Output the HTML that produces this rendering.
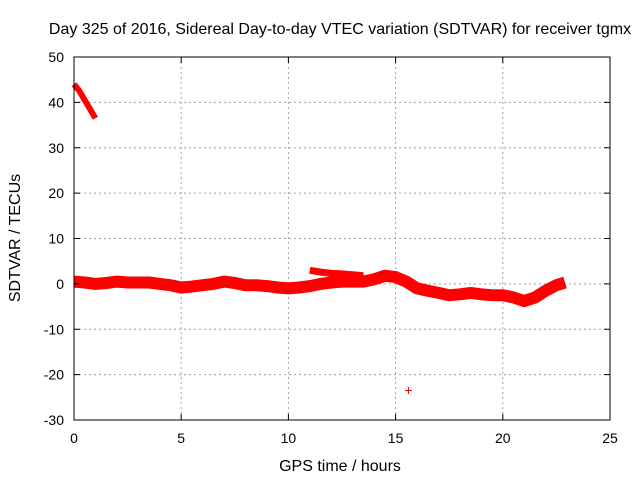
<!DOCTYPE html>
<html><head><meta charset="utf-8"><style>
body{margin:0;background:#fff}
svg{font-family:"Liberation Sans",sans-serif;font-size:14px}
.big{font-size:16px}
</style></head><body>
<svg width="640" height="480">
<g id="grid"></g>
<g id="marks"></g>
<g id="axes"></g>
</svg>
<script>
const xTicks=[0,5,10,15,20,25];
const yTicks=[-30,-20,-10,0,10,20,30,40,50];
const mainHours=[0,0.5,1,1.5,2,2.5,3,3.5,4,4.5,5,5.5,6,6.5,7,7.5,8,8.5,9,9.5,10,10.5,11,11.5,12,12.5,13,13.5,14,14.5,15,15.5,16,16.5,17,17.5,18,18.5,19,19.5,20,20.5,21,21.5,22,22.5,22.9];
const mainValues=[0.5,0.3,0,0.2,0.5,0.3,0.3,0.3,0,-0.3,-0.8,-0.6,-0.3,0,0.5,0.2,-0.3,-0.3,-0.5,-0.8,-1,-0.8,-0.5,0,0.3,0.5,0.5,0.5,1,1.8,1.5,0.5,-1,-1.5,-2,-2.5,-2.3,-2,-2.3,-2.5,-2.5,-3,-3.8,-3,-1.5,-0.3,0.3];
const upperHours=[11,11.5,12,12.5,13,13.5];
const upperValues=[3,2.6,2.3,2.2,2,1.8];
const startHours=[0,0.25,0.5,0.75,1];
const startValues=[44,42.5,40.5,38.5,36.5];
const outlierHours=[15.6];
const outlierValues=[-23.5];
const X0=74,X1=610,Y0=420,Y1=57;
const sx=v=>X0+(v-0)/(25-0)*(X1-X0);
const sy=v=>Y0-(v+30)/80*(Y0-Y1);
const NS="http://www.w3.org/2000/svg";
function mk(t,a,p){const e=document.createElementNS(NS,t);for(const k in a)e.setAttribute(k,a[k]);p.appendChild(e);return e;}
const grid=document.getElementById('grid'),marks=document.getElementById('marks'),axes=document.getElementById('axes');
xTicks.forEach(t=>{
 if(t>0&&t<25){const l=mk('line',{x1:sx(t),x2:sx(t),y1:Y1,y2:Y0,stroke:'#a0a0a0','stroke-dasharray':'2,3'},grid);
 
 }
 const tx=mk('text',{x:sx(t),y:Y0+23,'text-anchor':'middle'},axes);tx.textContent=t;
 
 
 mk('line',{x1:sx(t),x2:sx(t),y1:Y0,y2:Y0-6,stroke:'#000'},axes);
 mk('line',{x1:sx(t),x2:sx(t),y1:Y1,y2:Y1+6,stroke:'#000'},axes);
});
yTicks.forEach(t=>{
 if(t>-30&&t<50){const l=mk('line',{x1:X0,x2:X1,y1:sy(t),y2:sy(t),stroke:'#a0a0a0','stroke-dasharray':'2,3'},grid);
 
 }
 const tx=mk('text',{x:X0-10,y:sy(t)+5,'text-anchor':'end'},axes);tx.textContent=t;
 
 
 mk('line',{x1:X0,x2:X0+6,y1:sy(t),y2:sy(t),stroke:'#000'},axes);
 mk('line',{x1:X1,x2:X1-6,y1:sy(t),y2:sy(t),stroke:'#000'},axes);
});
const fr=mk('rect',{x:X0,y:Y1,width:X1-X0,height:Y0-Y1,fill:'none',stroke:'#000'},axes);


function band(hs,vs,w,name){
 const d=hs.map((h,i)=>(i?'L':'M')+sx(h).toFixed(1)+','+sy(vs[i]).toFixed(1)).join(' ');
 const p=mk('path',{d:d,fill:'none',stroke:'#f00','stroke-width':w,'stroke-linejoin':'round','stroke-linecap':'butt'},marks);
 
 
}
band(mainHours,mainValues,12,'sdtvar-main-band');
band(upperHours,upperValues,7,'sdtvar-upper-band');
band(startHours,startValues,6,'sdtvar-start-band');
outlierHours.forEach((h,i)=>{
 const g=mk('g',{stroke:'#f00'},marks);
 
 
 const x=sx(h),y=sy(outlierValues[i]);
 mk('line',{x1:x-3.5,x2:x+3.5,y1:y,y2:y},g);mk('line',{x1:x,x2:x,y1:y-3.5,y2:y+3.5},g);
});
const t=mk('text',{x:340,y:34,'text-anchor':'middle','class':'big'},axes);t.textContent='Day 325 of 2016, Sidereal Day-to-day VTEC variation (SDTVAR) for receiver tgmx';


const xl=mk('text',{x:340,y:471,'text-anchor':'middle','class':'big'},axes);xl.textContent='GPS time / hours';


const yl=mk('text',{x:0,y:0,'text-anchor':'middle','class':'big',transform:'translate(20,238) rotate(-90)'},axes);yl.textContent='SDTVAR / TECUs';


</script>
</body></html>
